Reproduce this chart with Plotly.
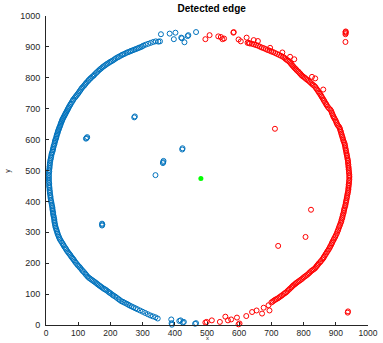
import plotly.graph_objects as go

# ---- detected edge points: left half (blue) ----
left_arc_x = [341, 333, 325, 317, 309, 302, 298, 293, 288, 284, 279, 274, 269, 264, 260, 255, 250, 245,
              240, 236, 231, 226, 222, 217, 213, 209, 204, 200, 196, 191, 187, 183, 179, 175, 171, 167,
              163, 159, 155, 151, 148, 144, 140, 137, 133, 130, 126, 123, 120, 117, 113, 110, 107, 104,
              101, 98, 95, 92, 89, 85, 83, 80, 77, 75, 72, 70, 68, 66, 64, 62, 60, 58, 56, 54, 52, 50,
              49, 47, 46, 44, 43, 41, 40, 38, 37, 36, 34, 33, 32, 31, 29, 28, 27, 26, 24, 23, 22, 21,
              20, 18, 17, 16, 15, 14, 13, 12, 12, 11, 11, 10, 10, 9, 9, 9, 9, 9, 9, 10, 10, 10, 11, 11,
              12, 12, 13, 14, 14, 15, 16, 17, 18, 19, 20, 20, 21, 22, 22, 23, 24, 25, 26, 26, 27, 28,
              29, 30, 32, 33, 35, 36, 38, 40, 42, 44, 47, 50, 53, 55, 58, 61, 63, 66, 69, 72, 75, 78,
              81, 84, 87, 90, 93, 97, 100, 104, 107, 111, 114, 118, 122, 125, 129, 133, 137, 141, 145,
              149, 153, 157, 160, 164, 168, 172, 176, 180, 184, 188, 193, 197, 201, 206, 210, 215, 220,
              225, 229, 234, 239, 244, 250, 255, 260, 266, 272, 278, 284, 292, 300, 308, 316, 324, 332,
              340, 347]
left_arc_y = [918, 916, 913, 910, 907, 904, 901, 899, 897, 895, 893, 891, 889, 887, 885, 883, 881, 878,
              876, 874, 871, 868, 866, 863, 860, 857, 854, 852, 849, 846, 843, 840, 837, 834, 830, 827,
              823, 819, 815, 811, 807, 804, 800, 797, 793, 789, 785, 781, 777, 773, 769, 765, 760, 756,
              751, 747, 743, 739, 735, 730, 726, 721, 716, 712, 707, 703, 699, 695, 691, 687, 683, 679,
              675, 671, 667, 663, 659, 655, 651, 646, 642, 638, 634, 630, 626, 621, 617, 612, 608, 603,
              599, 595, 590, 585, 580, 575, 570, 566, 561, 556, 551, 545, 540, 535, 530, 524, 519, 513,
              508, 502, 497, 492, 486, 481, 475, 470, 464, 459, 453, 448, 443, 437, 432, 427, 421, 416,
              411, 405, 400, 395, 389, 384, 379, 374, 369, 364, 360, 355, 350, 345, 340, 335, 330, 325,
              320, 315, 310, 305, 300, 295, 290, 285, 280, 276, 271, 266, 261, 257, 252, 248, 244, 239,
              235, 231, 227, 222, 218, 214, 210, 205, 201, 196, 192, 188, 184, 179, 175, 171, 166, 162,
              157, 153, 150, 147, 144, 141, 138, 135, 132, 129, 126, 123, 120, 117, 115, 112, 108, 105,
              102, 98, 95, 92, 88, 84, 81, 77, 75, 72, 69, 66, 63, 60, 57, 54, 51, 47, 43, 39, 35, 31,
              28, 25, 21]

# scattered left-half detections away from the main contour
left_stray_x = [349, 354, 357, 384, 402, 397, 420, 422, 430, 442, 440, 466,
                389, 390, 391, 414, 418, 425, 428, 463, 466,
                124, 126, 128, 274, 276, 363, 364, 365, 423, 424, 340, 174, 175, 174]
left_stray_y = [917, 918, 941, 943, 946, 925, 930, 928, 915, 938, 935, 948,
                18, 6, 1, 13, 15, 8, 10, 4, 6,
                603, 605, 608, 672, 675, 524, 527, 531, 568, 572, 485, 322, 325, 328]

# ---- detected edge points: right half (red) ----
right_arc_x = [626, 633, 640, 646, 652, 658, 664, 670, 676, 682, 688, 694, 700, 706, 712, 718, 724, 730,
               736, 740, 744, 748, 752, 756, 759, 762, 765, 768, 771, 774, 777, 780, 784, 787, 790, 793,
               796, 800, 804, 808, 812, 816, 820, 824, 828, 832, 836, 839, 842, 845, 848, 851, 854, 856,
               859, 862, 864, 867, 870, 872, 875, 879, 883, 886, 888, 890, 892, 894, 896, 899, 901, 903,
               905, 908, 911, 913, 914, 916, 917, 919, 920, 922, 923, 925, 927, 928, 929, 930, 931, 932,
               933, 934, 935, 936, 937, 938, 938, 939, 939, 940, 940, 941, 941, 942, 942, 942, 942, 941,
               941, 940, 940, 939, 939, 938, 937, 936, 935, 934, 933, 932, 931, 930, 929, 927, 926, 925,
               924, 922, 921, 920, 918, 917, 915, 913, 911, 909, 907, 905, 903, 900, 898, 895, 893, 890,
               888, 886, 883, 881, 878, 875, 872, 869, 866, 863, 861, 858, 854, 851, 847, 844, 841, 838,
               835, 831, 827, 823, 819, 816, 812, 808, 804, 800, 796, 792, 788, 784, 780, 776, 773, 769,
               766, 762, 758, 754, 750, 746, 742, 738, 733, 729, 725, 721, 716, 712, 708, 704, 700]
right_arc_y = [913, 911, 910, 908, 906, 904, 901, 898, 896, 893, 890, 888, 885, 883, 880, 877, 874, 871,
               868, 865, 861, 858, 855, 852, 848, 844, 840, 837, 833, 830, 827, 823, 820, 816, 813, 809,
               806, 803, 800, 796, 793, 790, 786, 782, 778, 775, 771, 766, 762, 757, 752, 748, 743, 739,
               734, 729, 725, 720, 715, 711, 706, 701, 697, 692, 686, 681, 676, 672, 668, 663, 658, 653,
               648, 644, 640, 635, 630, 625, 619, 614, 609, 604, 598, 593, 588, 583, 578, 572, 567, 562,
               556, 551, 546, 540, 535, 530, 524, 519, 513, 508, 503, 497, 492, 486, 481, 476, 470, 465,
               459, 454, 449, 443, 438, 432, 427, 422, 416, 411, 405, 400, 395, 389, 384, 378, 373, 368,
               362, 357, 351, 346, 341, 335, 330, 324, 319, 313, 307, 302, 296, 290, 285, 280, 275, 270,
               265, 260, 255, 250, 245, 240, 235, 230, 225, 220, 216, 212, 207, 203, 199, 195, 191, 187,
               183, 180, 177, 174, 170, 167, 163, 160, 157, 154, 150, 147, 144, 141, 138, 135, 132, 129,
               126, 122, 118, 114, 110, 106, 103, 100, 96, 93, 90, 87, 84, 82, 79, 76, 73]

# scattered right-half detections away from the main contour
right_stray_x = [495, 508, 535, 543, 548, 553, 582, 583, 598, 605, 623, 630, 645, 658, 696, 734, 758, 771,
                 826, 836, 861, 930, 931, 930, 931, 930,
                 694, 691, 676, 671, 654, 640, 622, 598, 601, 593, 575, 565, 557, 540, 515, 495, 499,
                 711, 721, 806, 823, 937, 938]
right_stray_y = [925, 938, 934, 932, 925, 927, 946, 948, 924, 918, 930, 913, 922, 919, 897, 882, 868, 860,
                 803, 798, 762, 941, 945, 948, 950, 916,
                 47, 64, 56, 37, 47, 42, 29, 2, 5, 24, 18, 15, 27, 10, 15, 8, 10,
                 635, 256, 285, 373, 40, 44]

# estimated centre of the contour
center_x = [481]
center_y = [474]

BLUE = "#0072BD"
RED = "#FF0000"
GREEN = "#00FF00"
AXIS = "#262626"
FONT = "Liberation Sans, Arial, sans-serif"

ring = dict(symbol="circle-open", size=5, line=dict(width=1))

fig = go.Figure()
fig.add_trace(go.Scatter(x=left_arc_x + left_stray_x, y=left_arc_y + left_stray_y, mode="markers",
                         marker=dict(color=BLUE, **ring), cliponaxis=False, showlegend=False))
fig.add_trace(go.Scatter(x=right_arc_x + right_stray_x, y=right_arc_y + right_stray_y, mode="markers",
                         marker=dict(color=RED, **ring), cliponaxis=False, showlegend=False))
fig.add_trace(go.Scatter(x=center_x, y=center_y, mode="markers",
                         marker=dict(color=GREEN, symbol="circle", size=5), cliponaxis=False,
                         showlegend=False))

axis_common = dict(
    showgrid=False, zeroline=False, showline=True, linecolor=AXIS, linewidth=1,
    ticks="inside", ticklen=3, tickcolor=AXIS, tickwidth=1, mirror=False,
    range=[0, 1000], tickvals=list(range(0, 1001, 100)),
    ticklabeloverflow="allow",
)

fig.update_layout(
    width=383, height=343,
    margin=dict(l=46, r=5, t=16, b=17),
    paper_bgcolor="white", plot_bgcolor="white",
    title=dict(text="<b>Detected edge</b>", x=0.5526, xanchor="center", y=0.985, yanchor="top",
               font=dict(family=FONT, size=10, color="#000000")),
    xaxis=dict(**axis_common, ticklabelstandoff=0,
               tickfont=dict(family=FONT, size=8.5, color=AXIS)),
    yaxis=dict(**axis_common, ticklabelstandoff=3,
               tickfont=dict(family=FONT, size=9, color=AXIS)),
    annotations=[
        dict(text="x", xref="paper", yref="paper", x=0.5, y=-0.0545, xanchor="center", yanchor="bottom",
             showarrow=False, borderpad=0, font=dict(family=FONT, size=6, color=AXIS)),
        dict(text="y", xref="paper", yref="paper", x=-0.12, y=0.5, xanchor="center", yanchor="middle",
             textangle=-90, showarrow=False, borderpad=0,
             font=dict(family=FONT, size=7, color=AXIS)),
    ],
)

fig.write_html("out.html")
